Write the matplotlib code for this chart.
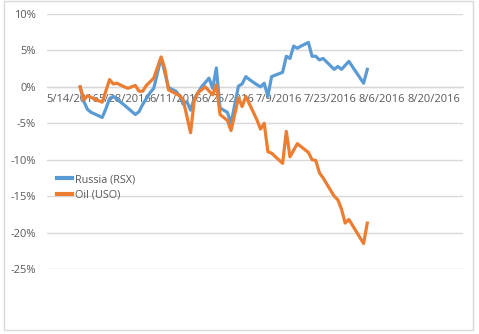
import matplotlib
matplotlib.use("Agg")
import matplotlib.pyplot as plt
import matplotlib.patches as mpatches
import pandas as pd

# Cumulative return since 5/16/2016, in percent
rsx_dates = ["2016-05-16", "2016-05-17", "2016-05-18", "2016-05-19", "2016-05-22",
             "2016-05-23", "2016-05-24", "2016-05-25", "2016-05-28", "2016-05-31",
             "2016-06-01", "2016-06-02", "2016-06-04", "2016-06-05", "2016-06-07",
             "2016-06-09", "2016-06-11", "2016-06-12", "2016-06-13", "2016-06-14",
             "2016-06-15", "2016-06-16", "2016-06-17", "2016-06-18", "2016-06-20",
             "2016-06-21", "2016-06-22", "2016-06-23", "2016-06-25", "2016-06-26",
             "2016-06-28", "2016-06-29", "2016-06-30", "2016-07-01", "2016-07-03",
             "2016-07-04", "2016-07-05", "2016-07-06", "2016-07-07", "2016-07-10",
             "2016-07-11", "2016-07-12", "2016-07-13", "2016-07-14", "2016-07-15",
             "2016-07-17", "2016-07-18", "2016-07-19", "2016-07-20", "2016-07-21",
             "2016-07-24", "2016-07-25", "2016-07-26", "2016-07-28", "2016-08-01",
             "2016-08-02"]
rsx_values = [0.0, -2.0, -3.1, -3.5, -4.2,
              -3.0, -1.6, -1.3, -2.5, -3.8,
              -3.4, -2.4, -0.8, -0.2, 4.0,
              -0.1, -0.6, -1.2, -2.4, -2.0,
              -3.2, -1.6, -0.8, 0.0, 1.2,
              -0.2, 2.6, -2.9, -3.5, -5.0,
              0.1, 0.4, 1.4, 1.0, 0.3,
              0.0, 0.5, -1.3, 1.4, 2.0,
              4.2, 3.9, 5.6, 5.3, 5.6,
              6.1, 4.2, 4.2, 3.7, 3.9,
              2.4, 2.8, 2.4, 3.5, 0.5,
              2.4]

uso_dates = ["2016-05-16", "2016-05-17", "2016-05-18", "2016-05-20", "2016-05-22",
             "2016-05-24", "2016-05-25", "2016-05-26", "2016-05-28", "2016-05-29",
             "2016-05-31", "2016-06-01", "2016-06-02", "2016-06-03", "2016-06-05",
             "2016-06-07", "2016-06-08", "2016-06-09", "2016-06-12", "2016-06-13",
             "2016-06-15", "2016-06-16", "2016-06-17", "2016-06-19", "2016-06-21",
             "2016-06-22", "2016-06-23", "2016-06-25", "2016-06-26", "2016-06-28",
             "2016-06-29", "2016-06-30", "2016-07-03", "2016-07-04", "2016-07-05",
             "2016-07-06", "2016-07-07", "2016-07-10", "2016-07-11", "2016-07-12",
             "2016-07-14", "2016-07-17", "2016-07-18", "2016-07-19", "2016-07-20",
             "2016-07-21", "2016-07-24", "2016-07-25", "2016-07-26", "2016-07-27",
             "2016-07-28", "2016-08-01", "2016-08-02"]
uso_values = [0.0, -1.8, -1.2, -1.7, -2.1,
              1.0, 0.4, 0.5, 0.0, -0.2,
              0.2, -0.6, -0.6, 0.2, 1.2,
              4.1, 2.5, -0.4, -1.2, -1.8,
              -6.3, -1.8, -0.8, 0.0, -1.1,
              0.3, -3.8, -4.6, -6.0, -1.5,
              -2.7, -1.3, -4.5, -5.8, -5.0,
              -8.9, -9.1, -10.5, -6.1, -9.6,
              -7.8, -9.0, -10.0, -10.1, -11.8,
              -12.5, -15.0, -15.5, -16.8, -18.7,
              -18.2, -21.5, -18.7]

series_names = ["Russia (RSX)", "Oil (USO)"]
series_colors = ["#5B9BD5", "#ED7D31"]

x_ticks = ["2016-05-14", "2016-05-28", "2016-06-11", "2016-06-25",
           "2016-07-09", "2016-07-23", "2016-08-06", "2016-08-20"]
x_range = ["2016-05-07", "2016-08-28"]
y_ticks = [10, 5, 0, -5, -10, -15, -20, -25]

W, H = 479, 334
fig = plt.figure(figsize=(W / 100, H / 100), dpi=100)
fig.patch.set_facecolor("white")

# chart area frame
fig.patches.append(mpatches.Rectangle((4 / W, 4 / H), 469 / W, 329 / H,
                                      transform=fig.transFigure, fill=False,
                                      edgecolor="#d9d9d9", linewidth=1.0))

ax = fig.add_axes([47 / W, (H - 269) / H, 416 / W, 255 / H])
ax.set_facecolor("none")

text_color = "#595959"
font = "Open Sans"
fsize = 8.0

# horizontal axis line sits at 0%
for s in ["top", "right", "left"]:
    ax.spines[s].set_visible(False)
ax.spines["bottom"].set_position(("data", 0))
ax.spines["bottom"].set_color("#d9d9d9")
ax.spines["bottom"].set_linewidth(1.0)

for d, v, name, c in [(rsx_dates, rsx_values, series_names[0], series_colors[0]),
                      (uso_dates, uso_values, series_names[1], series_colors[1])]:
    ax.plot(pd.to_datetime(d), [x / 100 for x in v], color=c, linewidth=2.3,
            label=name, solid_joinstyle="round", zorder=3)

ax.set_xlim(pd.to_datetime(x_range[0]), pd.to_datetime(x_range[1]))
ax.set_ylim(-0.25, 0.10)

ax.set_yticks([t / 100 for t in y_ticks])
ax.set_yticklabels([f"{t}%" for t in y_ticks])
ax.set_xticks(pd.to_datetime(x_ticks))
ax.set_xticklabels([f"{t.month}/{t.day}/{t.year}" for t in pd.to_datetime(x_ticks)])
for lbl in ax.get_xticklabels() + ax.get_yticklabels():
    lbl.set_fontfamily(font)
    lbl.set_fontsize(fsize)
    lbl.set_color(text_color)

ax.grid(axis="y", color="#d9d9d9", linewidth=1.0)
ax.set_axisbelow("line")
ax.tick_params(axis="both", length=0)
ax.tick_params(axis="y", pad=8)
ax.tick_params(axis="x", pad=5)

leg = ax.legend(loc="upper left", bbox_to_anchor=(57 / W, 1 - 174 / H),
                bbox_transform=fig.transFigure, frameon=False,
                prop={"family": font, "size": 7.8}, handlelength=1.35,
                handletextpad=0.35, labelspacing=0.4, borderpad=0,
                borderaxespad=0)
for t in leg.get_texts():
    t.set_color(text_color)
for h in leg.get_lines():
    h.set_linewidth(3)

fig.savefig("out.png", dpi=100, facecolor="white")
